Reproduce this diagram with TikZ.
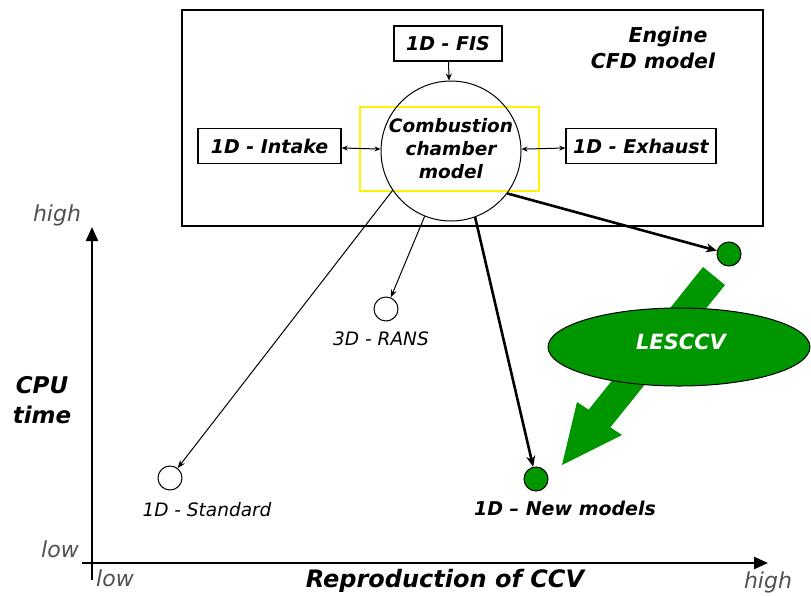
\documentclass[tikz,border=0pt]{standalone}
\usepackage{fontspec}
\setmainfont{DejaVu Sans}
\usetikzlibrary{arrows.meta,shapes.geometric}
\definecolor{leafgreen}{RGB}{0,150,0}
\definecolor{axisgray}{RGB}{80,80,80}
\begin{document}
\begin{tikzpicture}[x=1pt,y=-1pt,
  lbl/.style={font=\fontsize{19}{21}\selectfont\bfseries\itshape},
  modbox/.style={draw,line width=1.4pt,lbl,inner sep=0pt,minimum height=35pt},
  pt/.style={circle,draw,line width=1pt,minimum size=24pt,inner sep=0pt},
  ptfill/.style={pt,fill=leafgreen},
  axlbl/.style={text=axisgray,font=\fontsize{22}{24}\selectfont\itshape,anchor=base,inner sep=0pt},
  ptlbl/.style={font=\fontsize{18.5}{20}\selectfont\itshape,anchor=base,inner sep=0pt},
  thin/.style={-{Stealth[length=8pt,width=6pt]},line width=1pt},
  thick/.style={-{Stealth[length=11pt,width=9pt]},line width=2.6pt},
  link/.style={{Stealth[length=6pt,width=5pt]}-{Stealth[length=6pt,width=5pt]},line width=1pt}]
\useasboundingbox (0,0) rectangle (811,595);
% engine CFD model frame
\node[draw,line width=1.4pt,minimum width=581pt,minimum height=216pt,inner sep=0pt] (frame) at (472.5,118) {};
\node[lbl,font=\fontsize{20.5}{22}\selectfont\bfseries\itshape,anchor=base,inner sep=0pt] (eng1) at (668,42) {Engine};
\node[lbl,font=\fontsize{20.5}{22}\selectfont\bfseries\itshape,anchor=base,inner sep=0pt] (eng2) at (653,68) {CFD model};
% sub-models
\node[modbox,minimum width=108pt] (fis) at (448,43.5) {1D - FIS};
\node[modbox,minimum width=143pt] (intake) at (269.5,146) {1D - Intake};
\node[modbox,minimum width=150pt] (exhaust) at (641,146) {1D - Exhaust};
\node[draw=yellow,line width=1.4pt,minimum width=179pt,minimum height=84pt,inner sep=0pt] (hl) at (449.5,149) {};
\node[circle,draw,line width=1pt,minimum size=140pt,inner sep=0pt] (comb) at (451,151) {};
\node[align=center,font=\fontsize{18.5}{23}\selectfont\bfseries\itshape,inner sep=0pt] (combtxt) at (451,149) {Combustion\\chamber\\model};
\draw[-{Stealth[length=7pt,width=6pt]},line width=1pt] (fis) -- (comb);
\draw[link] (intake) -- (comb);
\draw[link] (exhaust) -- (comb);
% axes
\coordinate (ytop) at (92,227);
\coordinate (ybot) at (92,580);
\coordinate (xl) at (82,563);
\coordinate (xr) at (768,563);
\draw[line width=2.4pt,-{Triangle[length=14pt,width=12pt]}] (ybot) -- (ytop);
\draw[line width=2.4pt,-{Triangle[length=14pt,width=12pt]}] (xl) -- (xr);
\node[axlbl] (yhigh) at (57,221) {high};
\node[axlbl] (ylow) at (60,557) {low};
\node[axlbl] (xlow) at (115,586) {low};
\node[axlbl] (xhigh) at (768,588) {high};
\node[align=center,font=\fontsize{23}{30}\selectfont\bfseries\itshape,inner sep=0pt] (cpu) at (42,400) {CPU\\time};
\node[font=\fontsize{24}{26}\selectfont\bfseries\itshape,anchor=base,inner sep=0pt] (ccv) at (445,587) {Reproduction of CCV};
% model points
\node[pt] (std) at (170,478) {};
\node[pt] (rans) at (386,309) {};
\node[ptfill] (newm) at (536,479) {};
\node[ptfill] (les) at (729,254) {};
\node[ptlbl] (stdtxt) at (207,516) {1D - Standard};
\node[ptlbl] (ranstxt) at (381,345) {3D - RANS};
\node[ptlbl,font=\fontsize{19}{21}\selectfont\bfseries\itshape] (newtxt) at (565,515) {1D – New models};
\draw[thin] (comb.214) -- (std);
\draw[thin] (comb.248) -- (rans);
\draw[thick] (comb.290) -- (newm);
\draw[thick] (comb.323) -- (les);
% LESCCV trend arrow
\fill[leafgreen] (703,267) -- (725,285) -- (610.4,427.3) -- (622,435) -- (562,465)
  -- (577,402) -- (588.6,409.7) -- cycle;
\node[ellipse,draw,line width=1pt,fill=leafgreen,minimum width=262pt,minimum height=78pt,inner sep=0pt] (lesccv) at (679,347) {};
\node[text=white,font=\fontsize{21}{23}\selectfont\bfseries\itshape] (lestxt) at (681,342) {LESCCV};
\end{tikzpicture}
\end{document}
